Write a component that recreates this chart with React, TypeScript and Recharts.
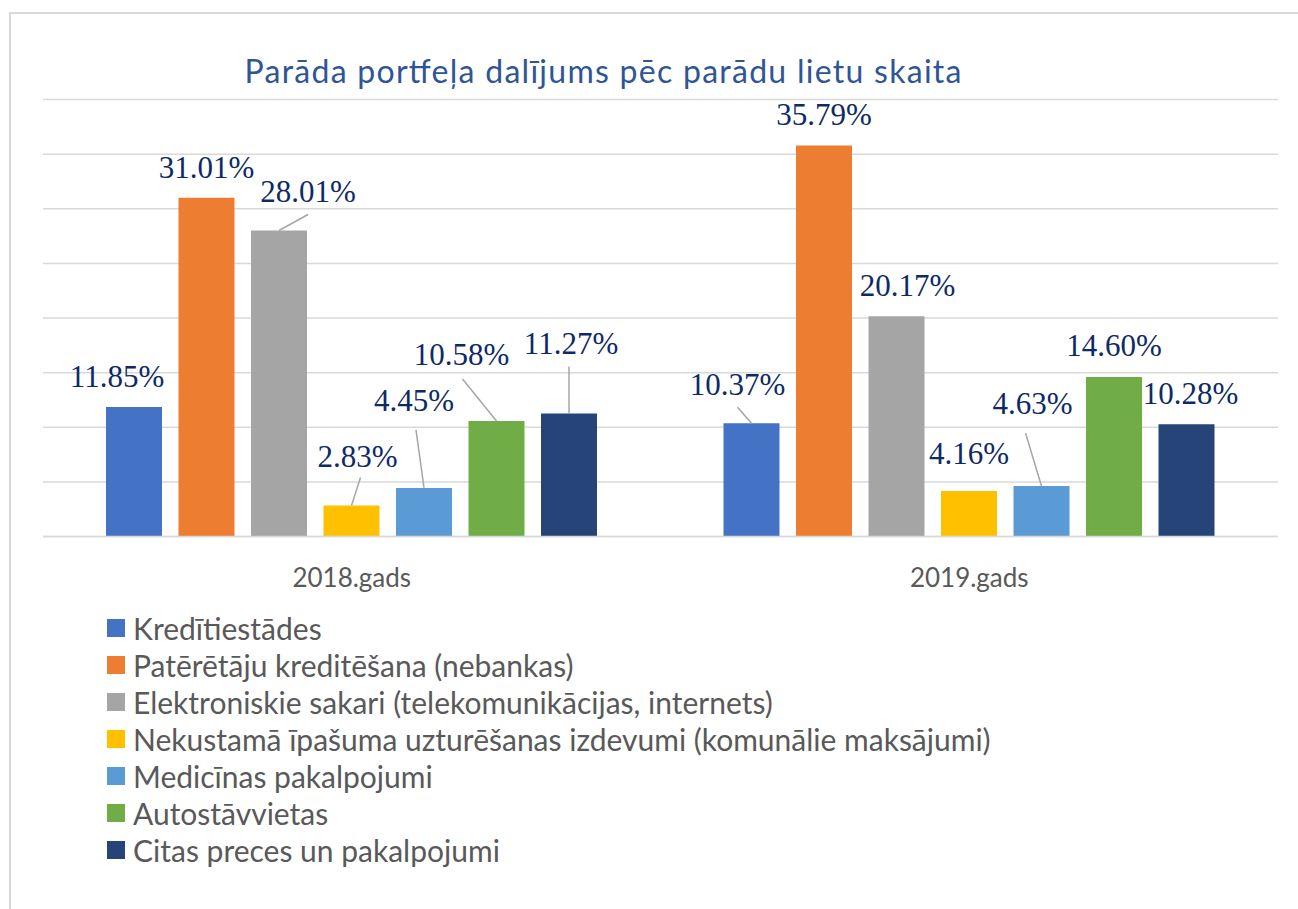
import React from 'react';
import {
  BarChart, Bar, XAxis, YAxis, CartesianGrid, Legend, LabelList,
} from 'recharts';

const categories = ['2018.gads', '2019.gads'];

const seriesNames = [
  'Kredītiestādes',
  'Patērētāju kreditēšana (nebankas)',
  'Elektroniskie sakari (telekomunikācijas, internets)',
  'Nekustamā īpašuma uzturēšanas izdevumi (komunālie maksājumi)',
  'Medicīnas pakalpojumi',
  'Autostāvvietas',
  'Citas preces un pakalpojumi',
];

const kreditiestades = [11.85, 10.37];
const pateretaju = [31.01, 35.79];
const elektroniskie = [28.01, 20.17];
const nekustama = [2.83, 4.16];
const medicinas = [4.45, 4.63];
const autostavvietas = [10.58, 14.6];
const citas = [11.27, 10.28];

const seriesValues = [kreditiestades, pateretaju, elektroniskie, nekustama, medicinas, autostavvietas, citas];
const seriesColors = ['#4472C4', '#ED7D31', '#A5A5A5', '#FFC000', '#5B9BD5', '#70AD47', '#264478'];

const yTicks = [0, 5, 10, 15, 20, 25, 30, 35, 40];

// label placement relative to bar top centre: [dx, dy(baseline), leader start dx, leader start dy]
type LabelPos = [number, number, number, number] | [number, number];
const labelPos: LabelPos[][] = [
  [[-17, -20], [-14, -28, 0, 12]],
  [[0, -20], [0, -20]],
  [[29, -28, 0, 12], [11, -20]],
  [[6, -39, 3, 11], [0, -27]],
  [[-10, -77, 2, 19], [-9, -72, -7, 19]],
  [[-35, -56, 1, 14], [0, -21]],
  [[2, -59, -2, 12], [4, -20]],
];

const data = categories.map((cat, i) => {
  const row: Record<string, string | number> = { name: cat };
  seriesValues.forEach((vals, s) => { row[`s${s}`] = vals[i]; });
  return row;
});

const fmt = (v: number) => `${v.toFixed(2)}%`;
const sans = "Lato, 'Open Sans', sans-serif";

const makeLabel = (s: number) => (props: any) => {
  const { x, y, width, value, index } = props;
  const cx = Number(x) + Number(width) / 2;
  const top = Number(y);
  const p = labelPos[s][index];
  const lx = cx + p[0];
  const ly = top + p[1];
  return (
    <g>
      {p.length === 4 && (
        <line x1={lx + p[2]} y1={ly + p[3]} x2={cx} y2={top}
          stroke="#A6A6A6" strokeWidth={1.5} />
      )}
      <text x={lx} y={ly} textAnchor="middle" fill="#0E2A66"
        fontFamily="'Liberation Serif', 'Times New Roman', serif" fontSize={31}>
        {fmt(Number(value))}
      </text>
    </g>
  );
};

const CategoryTick = (props: any) => {
  const { x, y, payload } = props;
  return (
    <text x={x} y={Number(y) + 50} textAnchor="middle" fill="#595959"
      fontFamily={sans} fontSize={26}>
      {payload.value}
    </text>
  );
};

const renderLegend = (props: any) => {
  const payload = [...(props.payload || [])].sort(
    (a: any, b: any) => seriesNames.indexOf(a.value) - seriesNames.indexOf(b.value),
  );
  return (
    <div style={{ fontFamily: sans, fontSize: 30, color: '#595959' }}>
      {payload.map((entry: any) => (
        <div key={entry.value} style={{ display: 'flex', alignItems: 'center', height: 37 }}>
          <span style={{ width: 18, height: 18, background: entry.color, marginRight: 8, display: 'inline-block', flex: 'none' }} />
          <span style={{ whiteSpace: 'nowrap' }}>{entry.value}</span>
        </div>
      ))}
    </div>
  );
};

export default function App() {
  return (
    <div style={{ position: 'absolute', left: 0, top: 0, width: 1298, height: 909, background: '#fff', overflow: 'hidden' }}>
      <div style={{
        position: 'absolute', left: 9, top: 12, width: 1400, height: 1000,
        border: '2px solid #D9D9D9', boxSizing: 'border-box',
      }} />
      <svg width={1298} height={120} style={{ position: 'absolute', left: 0, top: 0 }}>
        <text x={603} y={83} textAnchor="middle" fill="#2F5597"
          fontFamily={sans} fontSize={32} textLength={717} lengthAdjust="spacing">
          Parāda portfeļa dalījums pēc parādu lietu skaita
        </text>
      </svg>
      <div style={{ position: 'absolute', left: 0, top: 0 }}>
        <BarChart
          width={1298}
          height={909}
          data={data}
          margin={{ top: 99.5, right: 20, bottom: 312.5, left: 43 }}
          barCategoryGap={63}
          barGap={16.5}
        >
          <CartesianGrid horizontal vertical={false} stroke="#D9D9D9" strokeWidth={1.5} />
          <XAxis
            dataKey="name"
            height={60}
            tickLine={false}
            tickSize={0}
            tickMargin={0}
            axisLine={{ stroke: '#D9D9D9', strokeWidth: 1.5 }}
            tick={<CategoryTick />}
          />
          <YAxis hide domain={[0, 40]} ticks={yTicks} width={0} />
          <Legend
            layout="vertical"
            align="center"
            verticalAlign="middle"
            content={renderLegend}
            wrapperStyle={{ position: 'absolute', left: 107, top: 609.5, width: 1100, height: 260 }}
          />
          {seriesNames.map((name, s) => (
            <Bar key={name} dataKey={`s${s}`} name={name} fill={seriesColors[s]} isAnimationActive={false}>
              <LabelList dataKey={`s${s}`} content={makeLabel(s)} />
            </Bar>
          ))}
        </BarChart>
      </div>
    </div>
  );
}
